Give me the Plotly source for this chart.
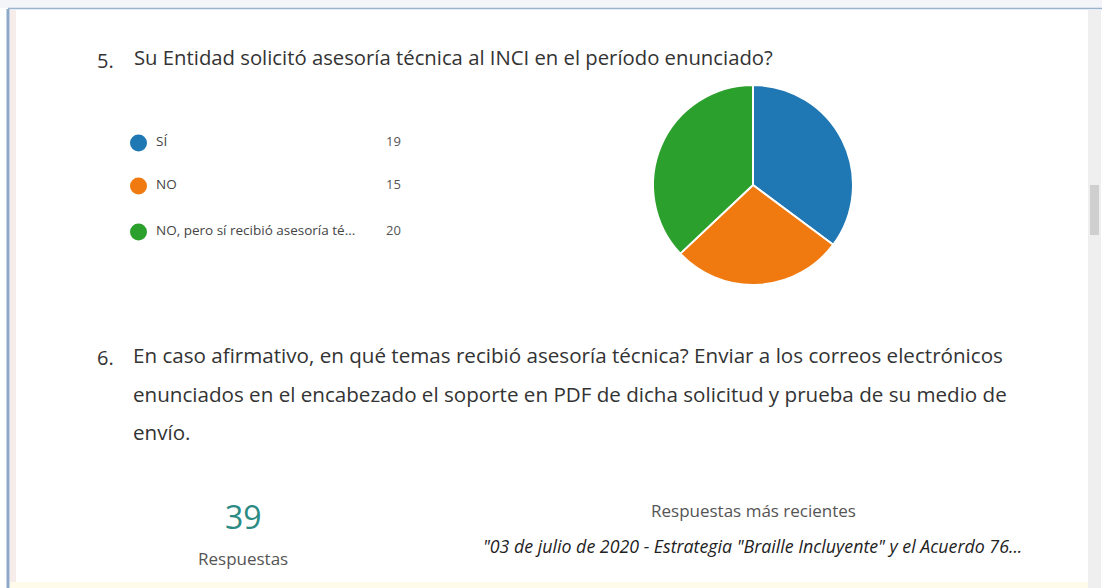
import plotly.graph_objects as go

W, H = 1102, 588

# ---- data ----
categories = ["SÍ", "NO", "NO, pero sí recibió asesoría técnica"]
legend_labels = ["SÍ", "NO", "NO, pero sí recibió asesoría té..."]
counts = [19, 15, 20]
colors = ["#1f77b4", "#f07a10", "#2ca02c"]

q5_num = "5."
q5_text = "Su Entidad solicitó asesoría técnica al INCI en el período enunciado?"
q6_num = "6."
q6_lines = [
    "En caso afirmativo, en qué temas recibió asesoría técnica? Enviar a los correos electrónicos",
    "enunciados en el encabezado el soporte en PDF de dicha solicitud y prueba de su medio de",
    "envío.",
]
total_responses = "39"
responses_label = "Respuestas"
recent_label = "Respuestas más recientes"
recent_text = "\"03 de julio de 2020 - Estrategia \"Braille Incluyente\" y el Acuerdo 76..."


def px(x):
    return x / W


def py(y):
    return 1 - y / H


FONT = "Open Sans"

fig = go.Figure()

# pie
cx, cy, r = 753, 185, 100
fig.add_trace(go.Pie(
    labels=categories,
    values=counts,
    sort=False,
    direction="clockwise",
    rotation=0,
    marker=dict(colors=colors, line=dict(color="white", width=2)),
    textinfo="none",
    hoverinfo="label+value",
    showlegend=False,
    domain=dict(x=[px(cx - r), px(cx + r)], y=[py(cy + r), py(cy - r)]),
))

shapes = []
annotations = []

# window frame
shapes.append(dict(type="rect", xref="paper", yref="paper", x0=0, x1=1, y0=py(8), y1=1,
                   fillcolor="#f3f5f8", line=dict(width=0), layer="below"))
shapes.append(dict(type="line", xref="paper", yref="paper", x0=px(8), x1=1, y0=py(8.5), y1=py(8.5),
                   line=dict(color="#9cb3cf", width=1.5)))
shapes.append(dict(type="line", xref="paper", yref="paper", x0=px(8), x1=px(8), y0=0, y1=py(9),
                   line=dict(color="#8ea8c8", width=3)))
shapes.append(dict(type="rect", xref="paper", yref="paper", x0=px(10), x1=px(16), y0=0, y1=py(10),
                   fillcolor="#f6ecea", line=dict(width=0), layer="below"))
# scrollbar
shapes.append(dict(type="rect", xref="paper", yref="paper", x0=px(1088), x1=px(1101), y0=0, y1=py(10),
                   fillcolor="#efefef", line=dict(width=0), layer="below"))
shapes.append(dict(type="rect", xref="paper", yref="paper", x0=px(1090), x1=px(1099), y0=py(235), y1=py(185),
                   fillcolor="#cfcfcf", line=dict(width=0)))
# bottom strip
shapes.append(dict(type="rect", xref="paper", yref="paper", x0=px(10), x1=px(1088), y0=0, y1=py(582),
                   fillcolor="#fffbea", line=dict(width=0), layer="below"))

# question 5
annotations.append(dict(text=q5_num, x=px(95), y=py(60), xanchor="left", yanchor="middle",
                        font=dict(family=FONT, size=20, color="#333333")))
annotations.append(dict(text=q5_text, x=px(132), y=py(57), xanchor="left", yanchor="middle",
                        font=dict(family=FONT, size=20.3, color="#333333")))

# custom legend
row_y = [143, 186, 232]
for lab, val, col, yy in zip(legend_labels, counts, colors, row_y):
    shapes.append(dict(type="circle", xref="paper", yref="paper",
                       x0=px(130), x1=px(147), y0=py(yy + 8.5), y1=py(yy - 8.5),
                       fillcolor=col, line=dict(width=0)))
    annotations.append(dict(text=lab, x=px(154), y=py(yy - 2), xanchor="left", yanchor="middle",
                            font=dict(family=FONT, size=13.5, color="#444444")))
    annotations.append(dict(text=str(val), x=px(384), y=py(yy - 2), xanchor="left", yanchor="middle",
                            font=dict(family=FONT, size=13, color="#555555")))

# question 6
annotations.append(dict(text=q6_num, x=px(95), y=py(357), xanchor="left", yanchor="middle",
                        font=dict(family=FONT, size=20, color="#333333")))
for i, line in enumerate(q6_lines):
    annotations.append(dict(text=line, x=px(131), y=py(355 + i * 38.5), xanchor="left", yanchor="middle",
                            font=dict(family=FONT, size=20.6, color="#333333")))

# bottom summary
annotations.append(dict(text=total_responses, x=px(243), y=py(516), xanchor="center", yanchor="middle",
                        font=dict(family=FONT, size=32, color="#2b8b84")))
annotations.append(dict(text=responses_label, x=px(243), y=py(558), xanchor="center", yanchor="middle",
                        font=dict(family=FONT, size=17, color="#555555")))
annotations.append(dict(text=recent_label, x=px(753), y=py(510), xanchor="center", yanchor="middle",
                        font=dict(family=FONT, size=17, color="#555555")))
annotations.append(dict(text="<i>" + recent_text + "</i>", x=px(752), y=py(546), xanchor="center",
                        yanchor="middle", font=dict(family=FONT, size=17.8, color="#222222")))

for a in annotations:
    a.update(xref="paper", yref="paper", showarrow=False)

fig.update_layout(
    width=W, height=H,
    margin=dict(l=0, r=0, t=0, b=0),
    paper_bgcolor="white",
    plot_bgcolor="white",
    shapes=shapes,
    annotations=annotations,
    showlegend=False,
)

fig.write_html("out.html")
